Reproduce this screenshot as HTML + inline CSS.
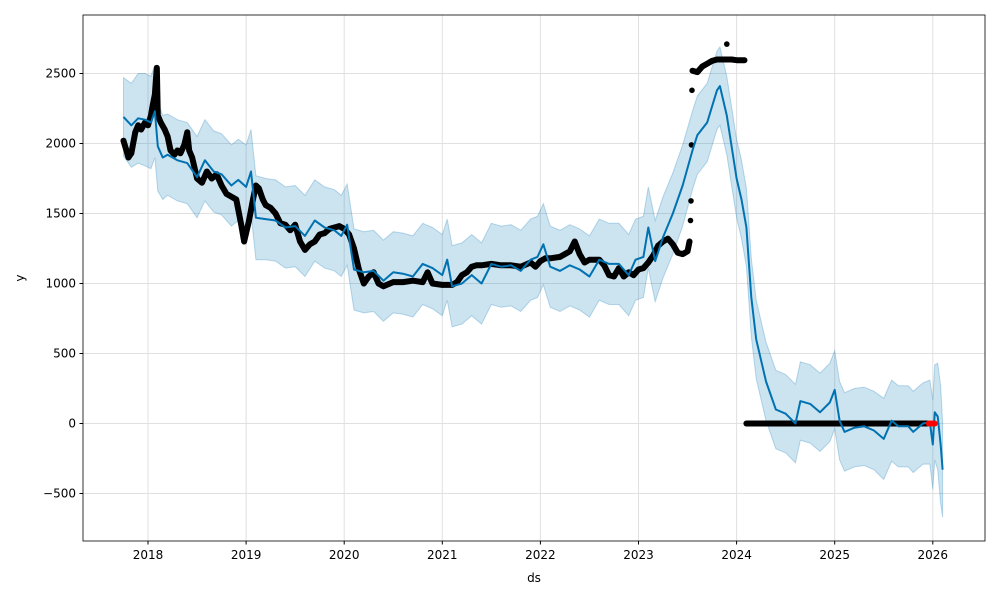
<!DOCTYPE html>
<html><head><meta charset="utf-8"><style>
body{margin:0;background:#fff;font-family:"Liberation Sans","DejaVu Sans",sans-serif;}
svg text{font-family:"DejaVu Sans","Liberation Sans",sans-serif;font-size:12px;fill:#000;}
</style></head><body>
<svg id="chart" width="1000" height="600">
<rect x="0" y="0" width="1000" height="600" fill="#fff"/>
<g id="grid"></g><g id="band"></g><g id="obs"></g><g id="fc"></g><g id="test"></g><g id="axes"></g>
</svg>
<script>
const fcT=[2017.75,2017.83,2017.9,2017.97,2018.03,2018.07,2018.1,2018.15,2018.2,2018.3,2018.4,2018.5,2018.58,2018.67,2018.75,2018.85,2018.92,2019.0,2019.05,2019.1,2019.2,2019.3,2019.4,2019.5,2019.6,2019.7,2019.8,2019.9,2019.97,2020.03,2020.1,2020.2,2020.3,2020.4,2020.5,2020.6,2020.7,2020.8,2020.9,2021.0,2021.05,2021.1,2021.2,2021.3,2021.4,2021.5,2021.6,2021.7,2021.8,2021.9,2021.97,2022.03,2022.1,2022.2,2022.3,2022.4,2022.5,2022.6,2022.7,2022.8,2022.9,2022.97,2023.05,2023.1,2023.17,2023.25,2023.35,2023.45,2023.55,2023.6,2023.7,2023.8,2023.83,2023.9,2024.0,2024.05,2024.1,2024.15,2024.2,2024.3,2024.4,2024.5,2024.6,2024.65,2024.75,2024.85,2024.95,2025.0,2025.05,2025.1,2025.2,2025.3,2025.4,2025.5,2025.58,2025.65,2025.75,2025.8,2025.9,2025.97,2026.0,2026.02,2026.05,2026.08,2026.1];
const fcV=[2190,2130,2180,2170,2150,2230,1980,1900,1920,1880,1860,1760,1880,1800,1780,1700,1740,1690,1800,1470,1460,1450,1400,1410,1340,1450,1400,1380,1340,1420,1100,1080,1090,1020,1080,1070,1050,1140,1110,1060,1170,980,1000,1060,1000,1140,1120,1130,1090,1170,1190,1280,1120,1090,1130,1100,1050,1170,1140,1140,1060,1170,1190,1400,1160,1330,1500,1700,1950,2060,2150,2380,2410,2200,1750,1600,1400,900,600,300,100,70,0,160,140,80,150,240,20,-60,-30,-20,-50,-110,20,-20,-20,-60,0,10,-150,80,50,-150,-330];
const bandW=[280,300,320,330,330,330,320,300,290,290,290,290,290,290,290,290,290,300,300,300,290,290,290,290,290,290,290,290,290,290,290,290,290,290,290,290,290,290,290,290,290,290,290,290,290,290,290,290,290,290,290,290,290,290,290,290,290,290,290,290,290,290,290,290,290,290,290,290,280,280,280,280,280,280,280,280,280,280,280,280,280,280,280,280,280,280,280,280,280,280,280,280,280,290,290,290,290,290,290,300,320,340,380,420,340];
const obsT=[2017.75,2017.78,2017.8,2017.83,2017.87,2017.9,2017.93,2017.97,2018.0,2018.03,2018.05,2018.07,2018.08,2018.09,2018.1,2018.13,2018.17,2018.2,2018.23,2018.27,2018.3,2018.33,2018.37,2018.4,2018.42,2018.45,2018.5,2018.55,2018.6,2018.65,2018.7,2018.75,2018.8,2018.85,2018.9,2018.95,2018.98,2019.0,2019.03,2019.07,2019.1,2019.13,2019.17,2019.2,2019.25,2019.3,2019.35,2019.4,2019.45,2019.5,2019.55,2019.6,2019.65,2019.7,2019.75,2019.8,2019.85,2019.9,2019.95,2020.0,2020.05,2020.1,2020.15,2020.2,2020.25,2020.3,2020.35,2020.4,2020.5,2020.6,2020.7,2020.8,2020.85,2020.9,2021.0,2021.1,2021.15,2021.2,2021.25,2021.3,2021.35,2021.4,2021.5,2021.6,2021.7,2021.8,2021.9,2021.95,2022.0,2022.05,2022.1,2022.2,2022.25,2022.3,2022.35,2022.4,2022.45,2022.5,2022.6,2022.65,2022.7,2022.75,2022.8,2022.85,2022.9,2022.95,2023.0,2023.05,2023.1,2023.15,2023.2,2023.25,2023.3,2023.35,2023.4,2023.45,2023.5,2023.52];
const obsV=[2020,1950,1900,1930,2080,2130,2100,2150,2130,2200,2280,2350,2450,2540,2200,2150,2100,2050,1950,1920,1950,1930,1990,2080,1950,1900,1750,1720,1800,1750,1780,1700,1640,1620,1600,1420,1300,1360,1450,1600,1700,1680,1600,1560,1540,1500,1430,1420,1380,1420,1300,1240,1280,1300,1350,1360,1390,1400,1410,1390,1350,1250,1100,1000,1050,1080,1000,980,1010,1010,1020,1010,1080,1000,990,990,1010,1060,1080,1120,1130,1130,1140,1130,1130,1120,1150,1120,1160,1180,1180,1190,1210,1230,1300,1210,1150,1170,1170,1130,1060,1050,1110,1050,1080,1060,1100,1110,1150,1200,1270,1300,1320,1280,1220,1210,1230,1300];
const spikeT=[2023.53,2023.535,2023.54,2023.545];
const spikeV=[1450,1590,1990,2380];
const highT=[2023.55,2023.6,2023.65,2023.7,2023.75,2023.8,2023.85,2023.95,2024.0,2024.05,2024.08];
const highV=[2520,2510,2550,2570,2590,2600,2600,2600,2595,2595,2595];
const outT=[2023.9];const outV=[2710];
const flatStart=2024.1, flatEnd=2025.95;
const flatT=[];for(let t=flatStart;t<=flatEnd+1e-9;t+=0.02)flatT.push(+t.toFixed(3));
const flatV=flatT.map(()=>0);
const testT=[2025.96,2025.98,2026.0,2026.02];
const testV=[0,0,0,0];
const yTicks=[-500,0,500,1000,1500,2000,2500];
const xTicks=[2018,2019,2020,2021,2022,2023,2024,2025,2026];

const X=t=>148+(t-2018)*98.1, Y=v=>423.5-v*0.14;
const NS='http://www.w3.org/2000/svg';
function mk(p,tag,a){const e=document.createElementNS(NS,tag);for(const k in a)e.setAttribute(k,a[k]);p.appendChild(e);return e;}
const grid=document.getElementById('grid'),axes=document.getElementById('axes');
const L=83,R=985,T=15,B=541;
yTicks.forEach(v=>{const y=Y(v);
 const g=mk(grid,'line',{x1:L,x2:R,y1:y,y2:y,stroke:'#e0e0e0','stroke-width':1});
 
 
 mk(axes,'line',{x1:L-3.5,x2:L,y1:y,y2:y,stroke:'#000'});
 const tx=mk(axes,'text',{x:L-7,y:y+4,'text-anchor':'end'});tx.textContent=v<0?'\u2212'+(-v):v;
 
 });
xTicks.forEach(v=>{const x=X(v);
 const g=mk(grid,'line',{x1:x,x2:x,y1:T,y2:B,stroke:'#e0e0e0','stroke-width':1});
 
 
 mk(axes,'line',{x1:x,x2:x,y1:B,y2:B+3.5,stroke:'#000'});
 const tx=mk(axes,'text',{x:x,y:B+18,'text-anchor':'middle'});tx.textContent=v;
 
 });
const fr=mk(axes,'rect',{x:L,y:T,width:R-L,height:B-T,fill:'none',stroke:'#000','stroke-width':0.8});


const xl=mk(axes,'text',{x:534,y:582,'text-anchor':'middle'});xl.textContent='ds';


const yl=mk(axes,'text',{x:24,y:278,'text-anchor':'middle',transform:'rotate(-90 24 278)'});yl.textContent='y';


let up=fcT.map((t,i)=>X(t)+','+Y(fcV[i]+bandW[i])), lo=fcT.map((t,i)=>X(t)+','+Y(fcV[i]-bandW[i])).reverse();
const band=mk(document.getElementById('band'),'polygon',{points:up.concat(lo).join(' '),fill:'rgba(0,114,178,0.2)',stroke:'rgba(0,114,178,0.25)','stroke-width':1});


const og=document.getElementById('obs');
function series(ts,vs,name,line,col){
 if(line){const pl=mk(og,'polyline',{points:ts.map((t,i)=>X(t)+','+Y(vs[i])).join(' '),fill:'none',stroke:col,'stroke-width':6,'stroke-linejoin':'round','stroke-linecap':'round'});
 
 }
 ts.forEach((t,i)=>{const c=mk(og,'circle',{cx:X(t),cy:Y(vs[i]),r:2.8,fill:col});
 
 });
}
series(obsT,obsV,'observed',true,'#000');
series(spikeT,spikeV,'observed-spike',false,'#000');
series(highT,highV,'observed-high',true,'#000');
series(outT,outV,'observed-outlier',false,'#000');
series(flatT,flatV,'observed-zero',true,'#000');
const fl=mk(document.getElementById('fc'),'polyline',{points:fcT.map((t,i)=>X(t)+','+Y(fcV[i])).join(' '),fill:'none',stroke:'#0072B2','stroke-width':2,'stroke-linejoin':'round'});


const tg=document.getElementById('test');
testT.forEach((t,i)=>{const c=mk(tg,'circle',{cx:X(t),cy:Y(testV[i]),r:3,fill:'#ff0000'});
 
 });
</script>
</body></html>
